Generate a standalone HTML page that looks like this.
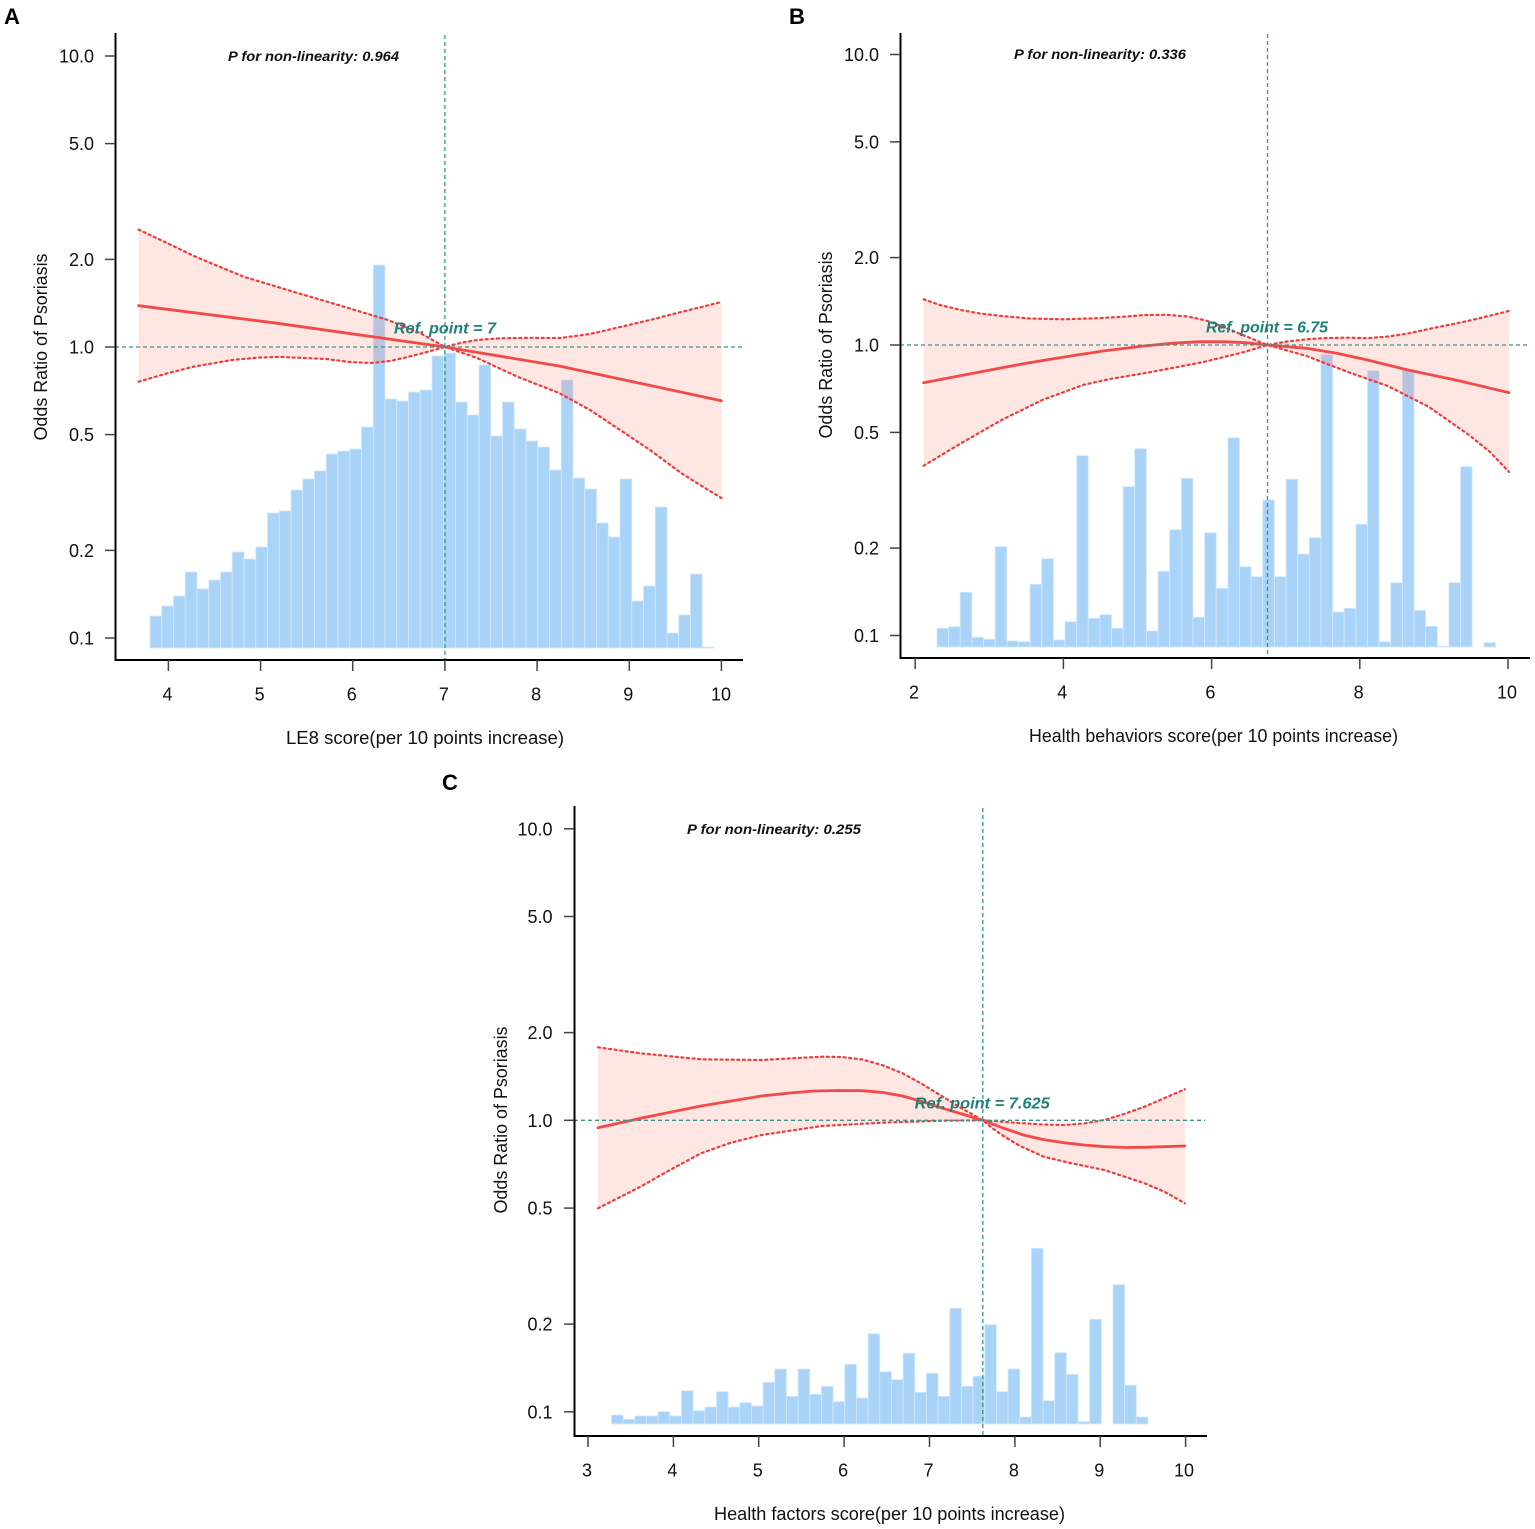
<!DOCTYPE html>
<html><head><meta charset="utf-8"><style>
html,body{margin:0;padding:0;background:#fff;}
svg{display:block;}
text{font-family:"Liberation Sans",Arial,sans-serif;}
.tk{font-size:18px;fill:#111;}
.ttl{font-size:18px;fill:#111;}
.pt{font-size:13.5px;font-weight:bold;font-style:italic;fill:#111;}
.rf{font-size:16px;font-weight:bold;font-style:italic;fill:#1f8079;}
.lab{font-size:22px;font-weight:bold;fill:#000;}
.bar rect{fill:#a9d4f8;stroke:#d2e8fb;stroke-width:0.8;}
.band{fill:rgba(250,128,114,0.2);stroke:none;}
.ci{fill:none;stroke:#f23a3a;stroke-width:2.2;stroke-dasharray:2 3.6;stroke-linecap:round;stroke-linejoin:round;}
.ctr{fill:none;stroke:#f24a4a;stroke-width:2.8;stroke-linejoin:round;stroke-linecap:round;}
.ref{stroke:#3a9588;stroke-width:1.3;stroke-dasharray:4 3;fill:none;}
.ax{stroke:#000;stroke-width:2;fill:none;}
.tc{stroke:#444;stroke-width:1.5;fill:none;}
</style></head><body>
<svg width="1535" height="1529" viewBox="0 0 1535 1529" xmlns="http://www.w3.org/2000/svg">

<!-- ================= PANEL A ================= -->
<text class="lab" x="4" y="24">A</text>
<g class="bar">
<rect x="150" y="616" width="11.75" height="32"/>
<rect x="161.75" y="606" width="11.75" height="42"/>
<rect x="173.5" y="596" width="11.75" height="52"/>
<rect x="185.25" y="572" width="11.75" height="76"/>
<rect x="197" y="589" width="11.75" height="59"/>
<rect x="208.75" y="580" width="11.75" height="68"/>
<rect x="220.5" y="572" width="11.75" height="76"/>
<rect x="232.25" y="552" width="11.75" height="96"/>
<rect x="244" y="559" width="11.75" height="89"/>
<rect x="255.75" y="547" width="11.75" height="101"/>
<rect x="267.5" y="513" width="11.75" height="135"/>
<rect x="279.25" y="511" width="11.75" height="137"/>
<rect x="291" y="490" width="11.75" height="158"/>
<rect x="302.75" y="479" width="11.75" height="169"/>
<rect x="314.5" y="471" width="11.75" height="177"/>
<rect x="326.25" y="454" width="11.75" height="194"/>
<rect x="338" y="451" width="11.75" height="197"/>
<rect x="349.75" y="449" width="11.75" height="199"/>
<rect x="361.5" y="427" width="11.75" height="221"/>
<rect x="373.25" y="265" width="11.75" height="383"/>
<rect x="385" y="399" width="11.75" height="249"/>
<rect x="396.75" y="401" width="11.75" height="247"/>
<rect x="408.5" y="392" width="11.75" height="256"/>
<rect x="420.25" y="390" width="11.75" height="258"/>
<rect x="432" y="356" width="11.75" height="292"/>
<rect x="443.75" y="353" width="11.75" height="295"/>
<rect x="455.5" y="402" width="11.75" height="246"/>
<rect x="467.25" y="415" width="11.75" height="233"/>
<rect x="479" y="365" width="11.75" height="283"/>
<rect x="490.75" y="436" width="11.75" height="212"/>
<rect x="502.5" y="402" width="11.75" height="246"/>
<rect x="514.25" y="429" width="11.75" height="219"/>
<rect x="526" y="441" width="11.75" height="207"/>
<rect x="537.75" y="447" width="11.75" height="201"/>
<rect x="549.5" y="470" width="11.75" height="178"/>
<rect x="561.25" y="380" width="11.75" height="268"/>
<rect x="573" y="478" width="11.75" height="170"/>
<rect x="584.75" y="489" width="11.75" height="159"/>
<rect x="596.5" y="523" width="11.75" height="125"/>
<rect x="608.25" y="537" width="11.75" height="111"/>
<rect x="620" y="479" width="11.75" height="169"/>
<rect x="631.75" y="601" width="11.75" height="47"/>
<rect x="643.5" y="586" width="11.75" height="62"/>
<rect x="655.25" y="507" width="11.75" height="141"/>
<rect x="667" y="633" width="11.75" height="15"/>
<rect x="678.75" y="615" width="11.75" height="33"/>
<rect x="690.5" y="574" width="11.75" height="74"/>
<rect x="702.25" y="647" width="11.75" height="1"/>
</g>
<polygon class="band" points="138.6,229.6 167,243 194,256 243,276.5 291,291 340,305.5 388,320 420,333 445,347 477,358 518,377 559,393 590,410 620,430 650,450 681,473 700,485 721.4,498 721.4,302 681,312 650,320 620,327 590,334 560,338 530,337.8 500,338.3 477,340 460,343 445,347 427,352 408,357 390,361 371,363 350,362 326,359 305,358 281,357 260,357.5 232,360 192,367 165,374 138.6,381.7"/>
<polyline class="ci" points="138.6,229.6 167,243 194,256 243,276.5 291,291 340,305.5 388,320 420,333 445,347 477,358 518,377 559,393 590,410 620,430 650,450 681,473 700,485 721.4,498"/>
<polyline class="ci" points="138.6,381.7 165,374 192,367 232,360 260,357.5 281,357 305,358 326,359 350,362 371,363 390,361 408,357 427,352 445,347 460,343 477,340 500,338.3 530,337.8 560,338 590,334 620,327 650,320 681,312 721.4,302"/>
<polyline class="ctr" points="138.6,305.7 273,322.7 445,347 559,366 721.4,400.7"/>
<line class="ref" x1="444.9" y1="35" x2="444.9" y2="660"/>
<line class="ref" x1="115" y1="347" x2="743" y2="347"/>
<text class="rf" x="394" y="333.5" textLength="102" lengthAdjust="spacingAndGlyphs">Ref. point = 7</text>
<text class="pt" x="228" y="61" textLength="171" lengthAdjust="spacingAndGlyphs">P for non-linearity: 0.964</text>
<!-- axes -->
<line class="ax" x1="115.5" y1="33" x2="115.5" y2="661"/>
<line class="ax" x1="115" y1="660" x2="743" y2="660"/>
<g class="tc">
<line x1="105" y1="56" x2="115" y2="56"/><line x1="105" y1="143.6" x2="115" y2="143.6"/><line x1="105" y1="259.4" x2="115" y2="259.4"/><line x1="105" y1="347" x2="115" y2="347"/><line x1="105" y1="434.6" x2="115" y2="434.6"/><line x1="105" y1="550.4" x2="115" y2="550.4"/><line x1="105" y1="638" x2="115" y2="638"/>
<line x1="168.4" y1="660" x2="168.4" y2="671"/><line x1="260.6" y1="660" x2="260.6" y2="671"/><line x1="352.7" y1="660" x2="352.7" y2="671"/><line x1="444.9" y1="660" x2="444.9" y2="671"/><line x1="537.1" y1="660" x2="537.1" y2="671"/><line x1="629.3" y1="660" x2="629.3" y2="671"/><line x1="721.4" y1="660" x2="721.4" y2="671"/>
</g>
<g class="tk" text-anchor="end">
<text x="94" y="62.5">10.0</text><text x="94" y="150">5.0</text><text x="94" y="266">2.0</text><text x="94" y="353.5">1.0</text><text x="94" y="441">0.5</text><text x="94" y="557">0.2</text><text x="94" y="644.5">0.1</text>
</g>
<g class="tk" text-anchor="middle">
<text x="167.5" y="700.5">4</text><text x="259.6" y="700.5">5</text><text x="351.7" y="700.5">6</text><text x="443.9" y="700.5">7</text><text x="536.1" y="700.5">8</text><text x="628.3" y="700.5">9</text><text x="721" y="700.5">10</text>
</g>
<text class="ttl" x="425" y="744" text-anchor="middle" textLength="278" lengthAdjust="spacingAndGlyphs">LE8 score(per 10 points increase)</text>
<text class="ttl" transform="translate(47,347) rotate(-90)" text-anchor="middle" textLength="187" lengthAdjust="spacingAndGlyphs">Odds Ratio of Psoriasis</text>

<!-- ================= PANEL B ================= -->
<text class="lab" x="789" y="24">B</text>
<g class="bar">
<rect x="937" y="628.3" width="11.63" height="18.7"/>
<rect x="948.64" y="626.7" width="11.63" height="20.3"/>
<rect x="960.27" y="592.3" width="11.63" height="54.7"/>
<rect x="971.91" y="637.3" width="11.63" height="9.7"/>
<rect x="983.54" y="639.3" width="11.63" height="7.7"/>
<rect x="995.18" y="546.7" width="11.63" height="100.3"/>
<rect x="1006.81" y="641" width="11.63" height="6"/>
<rect x="1018.45" y="641.7" width="11.63" height="5.3"/>
<rect x="1030.08" y="584.3" width="11.63" height="62.7"/>
<rect x="1041.72" y="558.7" width="11.63" height="88.3"/>
<rect x="1053.35" y="640" width="11.63" height="7"/>
<rect x="1064.99" y="621.7" width="11.63" height="25.3"/>
<rect x="1076.62" y="455.7" width="11.63" height="191.3"/>
<rect x="1088.26" y="618.3" width="11.63" height="28.7"/>
<rect x="1099.89" y="614.7" width="11.63" height="32.3"/>
<rect x="1111.53" y="628.3" width="11.63" height="18.7"/>
<rect x="1123.16" y="486.7" width="11.63" height="160.3"/>
<rect x="1134.8" y="448.7" width="11.63" height="198.3"/>
<rect x="1146.43" y="631" width="11.63" height="16"/>
<rect x="1158.07" y="571.3" width="11.63" height="75.7"/>
<rect x="1169.7" y="529.7" width="11.63" height="117.3"/>
<rect x="1181.34" y="478.3" width="11.63" height="168.7"/>
<rect x="1192.97" y="617.3" width="11.63" height="29.7"/>
<rect x="1204.61" y="532.7" width="11.63" height="114.3"/>
<rect x="1216.24" y="588.3" width="11.63" height="58.7"/>
<rect x="1227.88" y="437.7" width="11.63" height="209.3"/>
<rect x="1239.51" y="566.7" width="11.63" height="80.3"/>
<rect x="1251.15" y="576.7" width="11.63" height="70.3"/>
<rect x="1262.78" y="500" width="11.63" height="147"/>
<rect x="1274.42" y="576.7" width="11.63" height="70.3"/>
<rect x="1286.05" y="479.3" width="11.63" height="167.7"/>
<rect x="1297.69" y="554" width="11.63" height="93"/>
<rect x="1309.32" y="537.7" width="11.63" height="109.3"/>
<rect x="1320.96" y="354.7" width="11.63" height="292.3"/>
<rect x="1332.59" y="612" width="11.63" height="35"/>
<rect x="1344.23" y="608.3" width="11.63" height="38.7"/>
<rect x="1355.86" y="524.3" width="11.63" height="122.7"/>
<rect x="1367.5" y="370.7" width="11.63" height="276.3"/>
<rect x="1379.13" y="641.7" width="11.63" height="5.3"/>
<rect x="1390.77" y="582.7" width="11.63" height="64.3"/>
<rect x="1402.4" y="369.3" width="11.63" height="277.7"/>
<rect x="1414.04" y="610.3" width="11.63" height="36.7"/>
<rect x="1425.67" y="626.3" width="11.63" height="20.7"/>
<rect x="1437.31" y="646" width="11.63" height="1"/>
<rect x="1448.94" y="582.7" width="11.63" height="64.3"/>
<rect x="1460.58" y="466.7" width="11.63" height="180.3"/>
<rect x="1483.85" y="642.7" width="11.63" height="4.3"/>
</g>
<polygon class="band" points="923.6,299.3 940,305 961,310 980,313.5 1001.6,316 1030,318.5 1062.6,319.3 1095,318.3 1123.6,316.7 1145,315 1166,314.8 1188,316.5 1206,320.5 1224,327 1241.5,334.5 1255,340 1267.5,345 1306.5,356 1347,371.7 1387.8,386 1428.5,406.7 1469,435 1490,452 1509,472 1509,311 1469,320.7 1428.5,329 1408,333.5 1387.8,336.5 1367,338.2 1347,337.7 1327,338 1306.5,339.3 1287,341.5 1267.5,345 1245.5,351.7 1204.9,361.7 1175,367.5 1143.9,373.3 1110,379 1083,385 1042.3,400 1001.6,420 961,443.3 923.6,465.7"/>
<polyline class="ci" points="923.6,299.3 940,305 961,310 980,313.5 1001.6,316 1030,318.5 1062.6,319.3 1095,318.3 1123.6,316.7 1145,315 1166,314.8 1188,316.5 1206,320.5 1224,327 1241.5,334.5 1255,340 1267.5,345 1306.5,356 1347,371.7 1387.8,386 1428.5,406.7 1469,435 1490,452 1509,472"/>
<polyline class="ci" points="923.6,465.7 961,443.3 1001.6,420 1042.3,400 1083,385 1110,379 1143.9,373.3 1175,367.5 1204.9,361.7 1245.5,351.7 1267.5,345 1287,341.5 1306.5,339.3 1327,338 1347,337.7 1367,338.2 1387.8,336.5 1408,333.5 1428.5,329 1469,320.7 1509,311"/>
<polyline class="ctr" points="923.6,382.7 981,371.7 1022,364 1062.6,357.3 1103,351 1143.9,346 1173,343.2 1200.8,341.7 1225,341.8 1245.5,342.7 1267.5,345 1306.5,348.3 1338,353.5 1367.5,360 1408,370 1460,381 1509,392.7"/>
<line class="ref" x1="1267.5" y1="34" x2="1267.5" y2="658"/>
<line class="ref" x1="900" y1="345" x2="1530" y2="345"/>
<text class="rf" x="1206" y="332.7" textLength="122" lengthAdjust="spacingAndGlyphs">Ref. point = 6.75</text>
<text class="pt" x="1014" y="59" textLength="172" lengthAdjust="spacingAndGlyphs">P for non-linearity: 0.336</text>
<line class="ax" x1="900.5" y1="33" x2="900.5" y2="659"/>
<line class="ax" x1="900" y1="658" x2="1530" y2="658"/>
<g class="tc">
<line x1="890" y1="54.5" x2="900" y2="54.5"/><line x1="890" y1="141.9" x2="900" y2="141.9"/><line x1="890" y1="257.6" x2="900" y2="257.6"/><line x1="890" y1="345" x2="900" y2="345"/><line x1="890" y1="432.4" x2="900" y2="432.4"/><line x1="890" y1="548.1" x2="900" y2="548.1"/><line x1="890" y1="635.5" x2="900" y2="635.5"/>
<line x1="915.2" y1="658" x2="915.2" y2="669"/><line x1="1063.4" y1="658" x2="1063.4" y2="669"/><line x1="1211.6" y1="658" x2="1211.6" y2="669"/><line x1="1359.8" y1="658" x2="1359.8" y2="669"/><line x1="1508" y1="658" x2="1508" y2="669"/>
</g>
<g class="tk" text-anchor="end">
<text x="879" y="61">10.0</text><text x="879" y="148.4">5.0</text><text x="879" y="264.1">2.0</text><text x="879" y="351.5">1.0</text><text x="879" y="438.9">0.5</text><text x="879" y="554.6">0.2</text><text x="879" y="642">0.1</text>
</g>
<g class="tk" text-anchor="middle">
<text x="914" y="698.5">2</text><text x="1062.2" y="698.5">4</text><text x="1210.4" y="698.5">6</text><text x="1358.6" y="698.5">8</text><text x="1507" y="698.5">10</text>
</g>
<text class="ttl" x="1213.5" y="742" text-anchor="middle" textLength="369" lengthAdjust="spacingAndGlyphs">Health behaviors score(per 10 points increase)</text>
<text class="ttl" transform="translate(832,345) rotate(-90)" text-anchor="middle" textLength="187" lengthAdjust="spacingAndGlyphs">Odds Ratio of Psoriasis</text>

<!-- ================= PANEL C ================= -->
<text class="lab" x="442" y="790">C</text>
<g class="bar">
<rect x="611.5" y="1415" width="11.66" height="9"/>
<rect x="623.16" y="1419.3" width="11.66" height="4.7"/>
<rect x="634.83" y="1416" width="11.66" height="8"/>
<rect x="646.49" y="1416" width="11.66" height="8"/>
<rect x="658.15" y="1411.7" width="11.66" height="12.3"/>
<rect x="669.82" y="1416" width="11.66" height="8"/>
<rect x="681.48" y="1390.7" width="11.66" height="33.3"/>
<rect x="693.14" y="1410.7" width="11.66" height="13.3"/>
<rect x="704.8" y="1407" width="11.66" height="17"/>
<rect x="716.47" y="1391.7" width="11.66" height="32.3"/>
<rect x="728.13" y="1407" width="11.66" height="17"/>
<rect x="739.79" y="1402.7" width="11.66" height="21.3"/>
<rect x="751.46" y="1406" width="11.66" height="18"/>
<rect x="763.12" y="1382.3" width="11.66" height="41.7"/>
<rect x="774.78" y="1369" width="11.66" height="55"/>
<rect x="786.45" y="1396.3" width="11.66" height="27.7"/>
<rect x="798.11" y="1369" width="11.66" height="55"/>
<rect x="809.77" y="1394.3" width="11.66" height="29.7"/>
<rect x="821.43" y="1386.3" width="11.66" height="37.7"/>
<rect x="833.1" y="1401.7" width="11.66" height="22.3"/>
<rect x="844.76" y="1364.3" width="11.66" height="59.7"/>
<rect x="856.42" y="1398" width="11.66" height="26"/>
<rect x="868.09" y="1333.7" width="11.66" height="90.3"/>
<rect x="879.75" y="1371.7" width="11.66" height="52.3"/>
<rect x="891.41" y="1379.7" width="11.66" height="44.3"/>
<rect x="903.08" y="1353.3" width="11.66" height="70.7"/>
<rect x="914.74" y="1392.3" width="11.66" height="31.7"/>
<rect x="926.4" y="1373.3" width="11.66" height="50.7"/>
<rect x="938.06" y="1396.3" width="11.66" height="27.7"/>
<rect x="949.73" y="1308.3" width="11.66" height="115.7"/>
<rect x="961.39" y="1386.3" width="11.66" height="37.7"/>
<rect x="973.05" y="1376.3" width="11.66" height="47.7"/>
<rect x="984.72" y="1324.7" width="11.66" height="99.3"/>
<rect x="996.38" y="1391.7" width="11.66" height="32.3"/>
<rect x="1008.04" y="1369" width="11.66" height="55"/>
<rect x="1019.71" y="1417" width="11.66" height="7"/>
<rect x="1031.37" y="1248.3" width="11.66" height="175.7"/>
<rect x="1043.03" y="1400.7" width="11.66" height="23.3"/>
<rect x="1054.7" y="1352.7" width="11.66" height="71.3"/>
<rect x="1066.36" y="1374.3" width="11.66" height="49.7"/>
<rect x="1078.02" y="1421.7" width="11.66" height="2.3"/>
<rect x="1089.68" y="1319.3" width="11.66" height="104.7"/>
<rect x="1113.01" y="1284.7" width="11.66" height="139.3"/>
<rect x="1124.67" y="1385.3" width="11.66" height="38.7"/>
<rect x="1136.34" y="1417" width="11.66" height="7"/>
</g>
<polygon class="band" points="598,1047.3 640.5,1053.3 701,1059.3 761.5,1060 822,1056.7 842,1057 862.3,1059.5 882,1065 902.6,1073.3 922,1084 942.9,1096.7 962,1108.5 982.8,1120.3 992,1128 1003.4,1136 1020,1146 1043.7,1156.7 1070,1163 1104.2,1170 1144.5,1183.3 1165,1192 1184.8,1203.3 1184.8,1089.3 1144.5,1106.7 1124,1114 1104.2,1120 1084,1123.5 1063.9,1125 1043,1124.5 1023.5,1123.3 982.8,1120.3 942.9,1120.7 882.4,1122.7 822,1126 761.5,1135 730,1143 701,1153.3 670,1170 640.5,1186.7 598,1208.3"/>
<polyline class="ci" points="598,1047.3 640.5,1053.3 701,1059.3 761.5,1060 822,1056.7 842,1057 862.3,1059.5 882,1065 902.6,1073.3 922,1084 942.9,1096.7 962,1108.5 982.8,1120.3 992,1128 1003.4,1136 1020,1146 1043.7,1156.7 1070,1163 1104.2,1170 1144.5,1183.3 1165,1192 1184.8,1203.3"/>
<polyline class="ci" points="598,1208.3 640.5,1186.7 670,1170 701,1153.3 730,1143 761.5,1135 822,1126 882.4,1122.7 942.9,1120.7 982.8,1120.3 1023.5,1123.3 1043,1124.5 1063.9,1125 1084,1123.5 1104.2,1120 1124,1114 1144.5,1106.7 1184.8,1089.3"/>
<polyline class="ctr" points="598.1,1127.7 640.5,1118.3 701,1106 761.5,1096 790,1093 813.9,1091 840,1090.5 862.3,1090.7 883,1092.5 902.6,1096 922,1101.5 942.9,1108.3 962,1114 982.8,1120.3 1003,1128 1023.5,1135 1043,1139.5 1063.9,1142.7 1084,1145 1104.2,1146.7 1125,1147.5 1144.5,1147.3 1184.8,1146"/>
<line class="ref" x1="982.8" y1="808" x2="982.8" y2="1436"/>
<line class="ref" x1="574" y1="1120.3" x2="1205" y2="1120.3"/>
<text class="rf" x="914.7" y="1108.5" textLength="135" lengthAdjust="spacingAndGlyphs">Ref. point = 7.625</text>
<text class="pt" x="687" y="834" textLength="174" lengthAdjust="spacingAndGlyphs">P for non-linearity: 0.255</text>
<line class="ax" x1="574.5" y1="806" x2="574.5" y2="1437"/>
<line class="ax" x1="574" y1="1436" x2="1207" y2="1436"/>
<g class="tc">
<line x1="564" y1="828.8" x2="574" y2="828.8"/><line x1="564" y1="916.5" x2="574" y2="916.5"/><line x1="564" y1="1032.6" x2="574" y2="1032.6"/><line x1="564" y1="1120.3" x2="574" y2="1120.3"/><line x1="564" y1="1208.1" x2="574" y2="1208.1"/><line x1="564" y1="1324.1" x2="574" y2="1324.1"/><line x1="564" y1="1411.8" x2="574" y2="1411.8"/>
<line x1="588" y1="1436" x2="588" y2="1447"/><line x1="673.4" y1="1436" x2="673.4" y2="1447"/><line x1="758.7" y1="1436" x2="758.7" y2="1447"/><line x1="844.1" y1="1436" x2="844.1" y2="1447"/><line x1="929.5" y1="1436" x2="929.5" y2="1447"/><line x1="1014.9" y1="1436" x2="1014.9" y2="1447"/><line x1="1100.2" y1="1436" x2="1100.2" y2="1447"/><line x1="1185.6" y1="1436" x2="1185.6" y2="1447"/>
</g>
<g class="tk" text-anchor="end">
<text x="552.5" y="835.3">10.0</text><text x="552.5" y="923">5.0</text><text x="552.5" y="1039.1">2.0</text><text x="552.5" y="1126.8">1.0</text><text x="552.5" y="1214.6">0.5</text><text x="552.5" y="1330.6">0.2</text><text x="552.5" y="1418.3">0.1</text>
</g>
<g class="tk" text-anchor="middle">
<text x="587" y="1476.5">3</text><text x="672.4" y="1476.5">4</text><text x="757.7" y="1476.5">5</text><text x="843.1" y="1476.5">6</text><text x="928.5" y="1476.5">7</text><text x="1013.9" y="1476.5">8</text><text x="1099.2" y="1476.5">9</text><text x="1184" y="1476.5">10</text>
</g>
<text class="ttl" x="889.5" y="1520" text-anchor="middle" textLength="351" lengthAdjust="spacingAndGlyphs">Health factors score(per 10 points increase)</text>
<text class="ttl" transform="translate(507,1120) rotate(-90)" text-anchor="middle" textLength="187" lengthAdjust="spacingAndGlyphs">Odds Ratio of Psoriasis</text>

</svg>
</body></html>
